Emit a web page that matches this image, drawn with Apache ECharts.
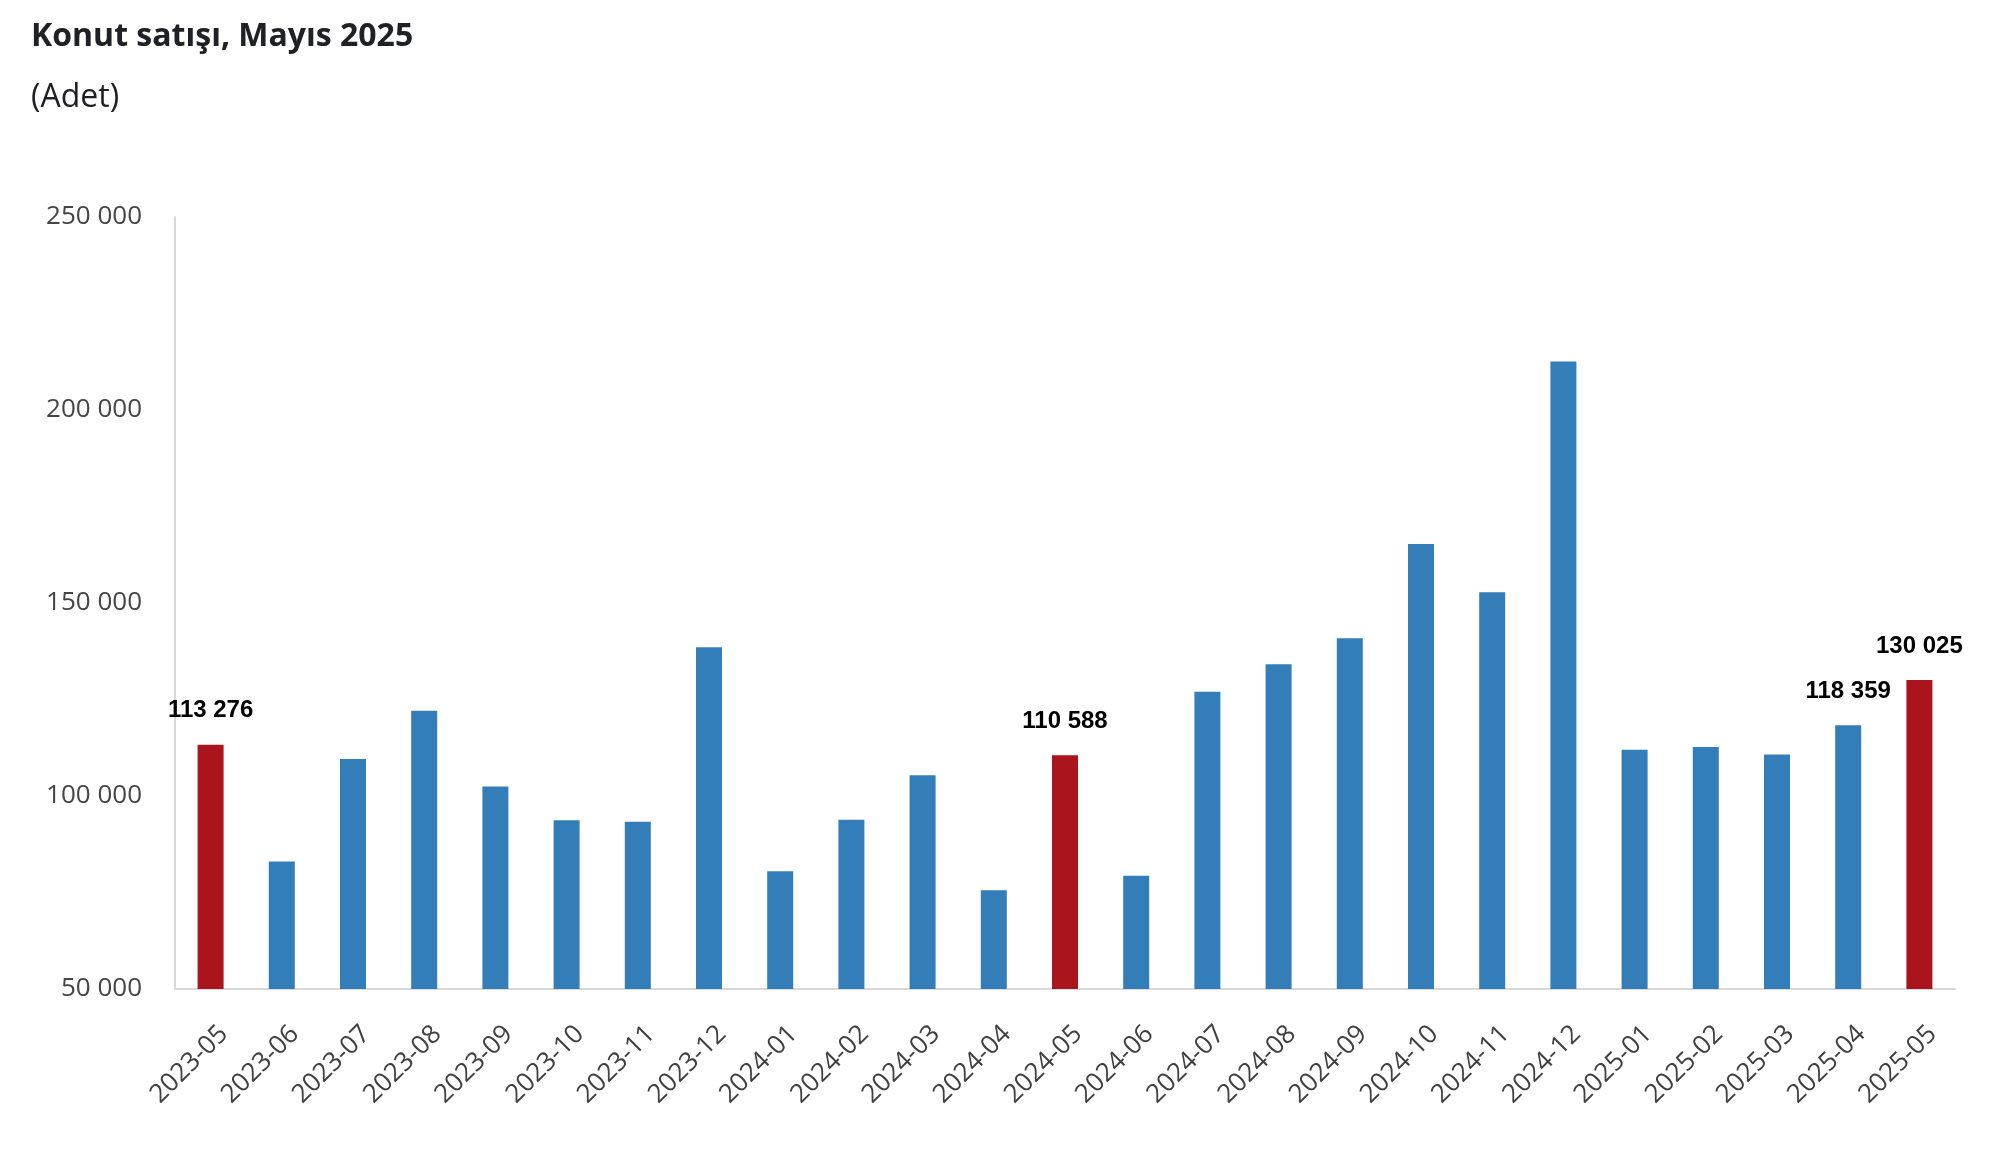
<!DOCTYPE html>
<html>
<head>
<meta charset="utf-8">
<script src="https://cdn.jsdelivr.net/npm/echarts@6/dist/echarts.min.js"></script>
<style>
html,body{margin:0;padding:0;background:#fff;}
#chart{width:2000px;height:1174px;}
</style>
</head>
<body>
<div id="chart"></div>
<script>
const titleText = 'Konut satışı, Mayıs 2025';
const subtitleText = '(Adet)';
const categories = ['2023-05','2023-06','2023-07','2023-08','2023-09','2023-10','2023-11','2023-12',
  '2024-01','2024-02','2024-03','2024-04','2024-05','2024-06','2024-07','2024-08','2024-09','2024-10','2024-11','2024-12',
  '2025-01','2025-02','2025-03','2025-04','2025-05'];
const sales = [113276, 83011, 109570, 122083, 102485, 93710, 93304, 138545,
  80497, 93828, 105394, 75569, 110588, 79313, 127028, 134138, 140885, 165305, 152809, 212575,
  111993, 112681, 110719, 118359, 130025];
const highlightMonths = ['2023-05','2024-05','2025-05'];
const labelledMonths = ['2023-05','2024-05','2025-04','2025-05'];
const yTicks = [50000, 100000, 150000, 200000, 250000];

const BLUE = '#337EB9';
const RED = '#AA151D';
const fmt = v => String(v).replace(/\B(?=(\d{3})+(?!\d))/g, ' ');

const data = sales.map((v, i) => {
  const c = categories[i];
  return {
    value: v,
    itemStyle: { color: highlightMonths.includes(c) ? RED : BLUE },
    label: { show: labelledMonths.includes(c) }
  };
});

const chart = echarts.init(document.getElementById('chart'), null, { renderer: 'canvas' });
chart.setOption({
  backgroundColor: '#ffffff',
  animation: false,
  title: [
    { text: titleText, left: 26, top: 16,
      textStyle: { fontFamily: 'Open Sans', fontWeight: 'bold', fontSize: 32, color: '#202124' } },
    { text: subtitleText, left: 26, top: 77,
      textStyle: { fontFamily: 'Open Sans', fontWeight: 'normal', fontSize: 32, color: '#202124' } }
  ],
  grid: { left: 175, right: 45, top: 217, bottom: 185, containLabel: false },
  xAxis: {
    type: 'category',
    data: categories,
    axisLine: { show: true, lineStyle: { color: '#d9d9d9', width: 2 } },
    axisTick: { show: false },
    axisLabel: { rotate: 45, margin: 28, fontFamily: 'Open Sans', fontSize: 26, color: '#404040',
      interval: 0, verticalAlign: 'top', lineHeight: 37 }
  },
  yAxis: {
    type: 'value',
    min: yTicks[0], max: yTicks[yTicks.length - 1], interval: 50000,
    axisLine: { show: true, lineStyle: { color: '#d9d9d9', width: 2 } },
    axisTick: { show: false },
    splitLine: { show: false },
    axisLabel: { margin: 33, fontFamily: 'Open Sans', fontSize: 26, color: '#454545', formatter: v => fmt(v) }
  },
  series: [{
    type: 'bar',
    data: data,
    barWidth: 26,
    label: {
      position: 'top', distance: 22,
      fontFamily: 'Liberation Sans', fontWeight: 'bold', fontSize: 24, color: '#000',
      formatter: p => fmt(p.value)
    }
  }]
});
</script>
</body>
</html>
